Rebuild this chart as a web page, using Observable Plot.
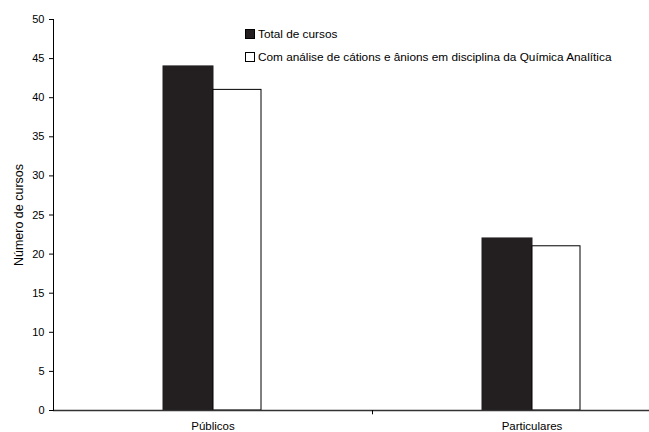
<!DOCTYPE html>
<html>
<head>
<meta charset="utf-8">
<script src="https://cdn.jsdelivr.net/npm/d3@7"></script>
<script src="https://cdn.jsdelivr.net/npm/@observablehq/plot@0.6"></script>
<style>
  html, body { margin: 0; padding: 0; background: #fff; }
  #wrap { position: relative; width: 649px; height: 432px; overflow: hidden; font-family: "Liberation Sans", Arial, sans-serif; }
  .leg { position: absolute; left: 245px; font-size: 11.8px; color: #000; display: flex; align-items: center; white-space: nowrap; }
  .sw { width: 10px; height: 10px; border: 1px solid #000; margin-right: 3px; box-sizing: border-box; }
</style>
</head>
<body>
<div id="wrap"></div>
<script>
const categories = ["Públicos", "Particulares"];
const seriesNames = ["Total de cursos", "Com análise de cátions e ânions em disciplina da Química Analítica"];
const totalCursos = [44, 22];
const comAnalise = [41, 21];
const yTicks = [0, 5, 10, 15, 20, 25, 30, 35, 40, 45, 50];

const totalData = categories.map((c, i) => ({category: c, value: totalCursos[i]}));
const comData = categories.map((c, i) => ({category: c, value: comAnalise[i]}));

const chart = Plot.plot({
  width: 649,
  height: 432,
  marginLeft: 53,
  marginRight: 0,
  marginTop: 19,
  marginBottom: 22,
  style: {fontFamily: "'Liberation Sans', Arial, sans-serif", fontSize: "11px", color: "#000", background: "#fff", overflow: "hidden"},
  x: {type: "band", domain: categories, range: [53, 691], padding: 0},
  y: {domain: [0, 50], ticks: yTicks},
  marks: [
    Plot.barY(totalData, {x: "category", y: "value", fill: "#231f20", stroke: "#231f20", strokeWidth: 1, insetLeft: 110, insetRight: 159}),
    Plot.barY(comData, {x: "category", y: "value", fill: "#fff", stroke: "#000", strokeWidth: 1, insetLeft: 160, insetRight: 111}),
    Plot.ruleY([0], {stroke: "#333", strokeWidth: 1.5}),
    Plot.frame({anchor: "left", stroke: "#000"}),
    Plot.ruleX([categories[1]], {x: d => d, dx: -159.5, y1: 0, y2: -0.55, stroke: "#000"}),
    Plot.axisY({ticks: yTicks, tickSize: 4, tickPadding: 5, label: null, fontSize: 11}),
    Plot.axisX({tickSize: 0, tickPadding: 11, label: null, fontSize: 11.5}),
    Plot.text(["Número de cursos"], {frameAnchor: "left", dx: -35, rotate: -90, text: d => d, fontSize: 12.5, textAnchor: "middle", lineAnchor: "middle"})
  ]
});

const wrap = document.getElementById("wrap");
wrap.appendChild(chart);

const legColors = ["#231f20", "#fff"];
const legTops = [27, 50];
seriesNames.forEach((name, i) => {
  const d = document.createElement("div");
  d.className = "leg";
  d.style.top = legTops[i] + "px";
  const sw = document.createElement("span");
  sw.className = "sw";
  sw.style.background = legColors[i];
  const t = document.createElement("span");
  t.textContent = name;
  d.appendChild(sw);
  d.appendChild(t);
  wrap.appendChild(d);
});
</script>
</body>
</html>
